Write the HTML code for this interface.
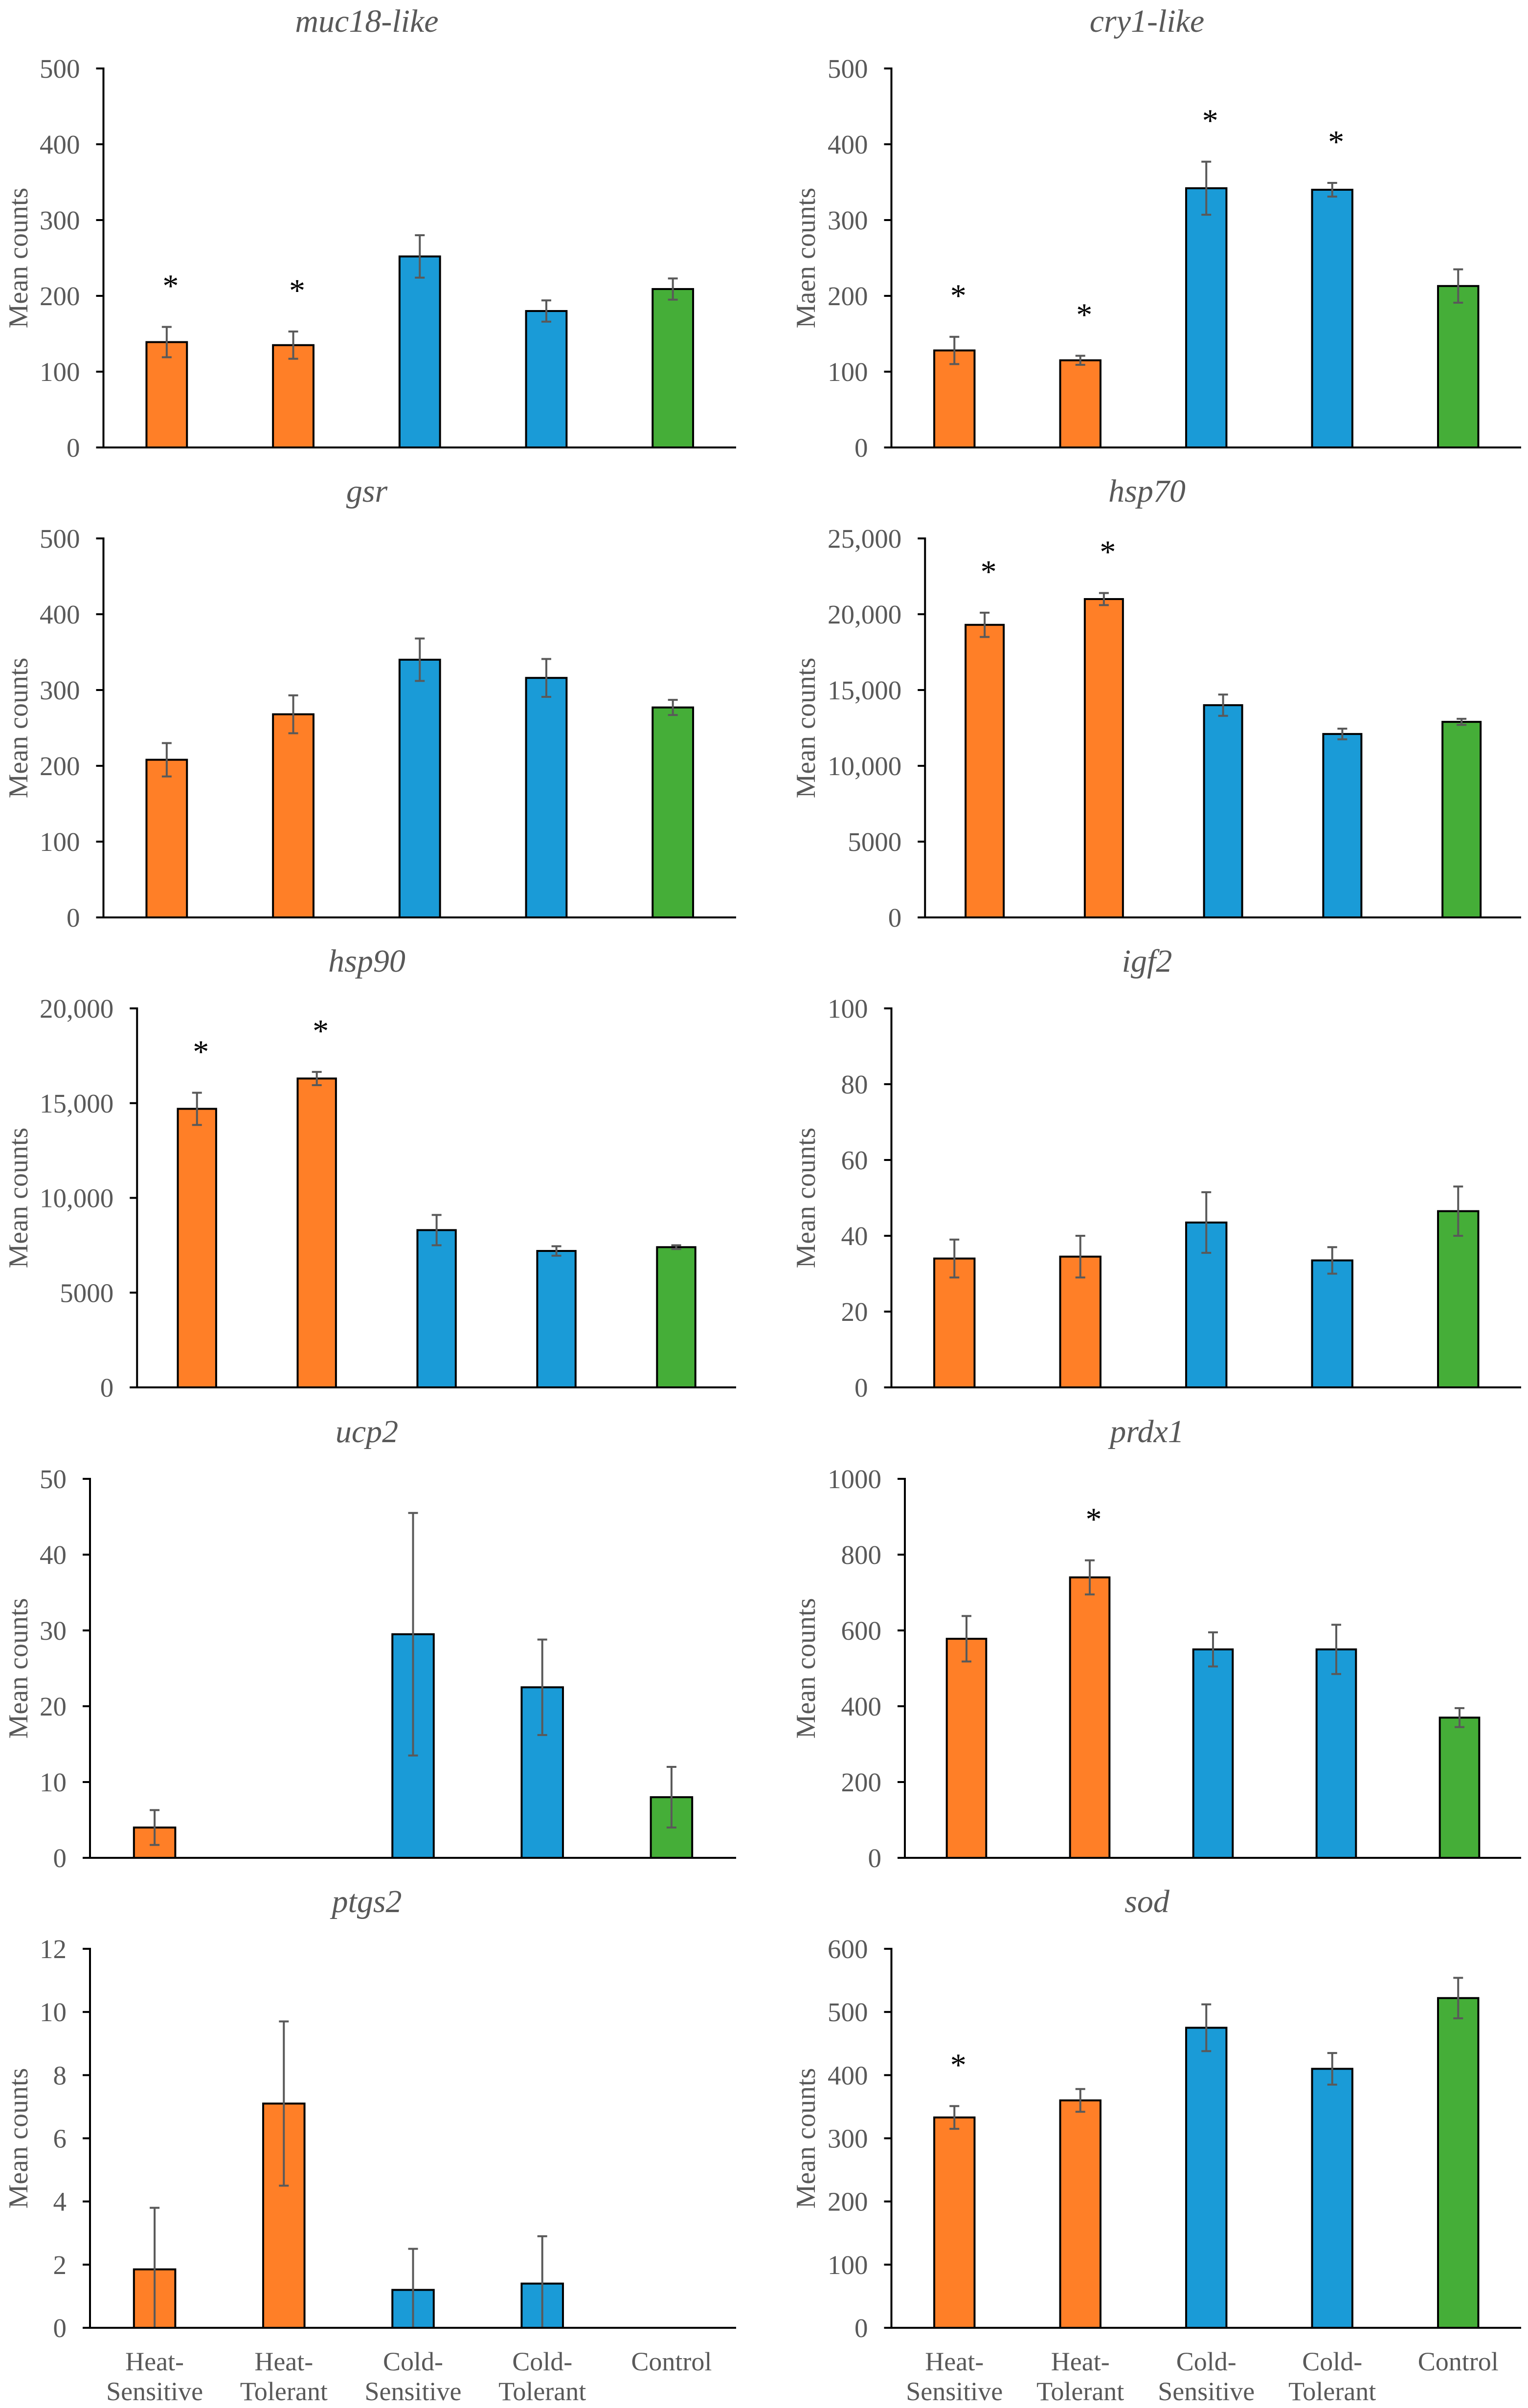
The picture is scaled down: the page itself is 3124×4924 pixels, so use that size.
<!DOCTYPE html>
<html><head><meta charset="utf-8">
<style>
html,body{margin:0;padding:0;background:#fff;}
svg{display:block;font-family:"Liberation Serif",serif;}
</style></head>
<body>
<svg id="fig" width="3124" height="4924" viewBox="0 0 3124 4924" xmlns="http://www.w3.org/2000/svg"></svg>
<script>
const categories = ["Heat-Sensitive","Heat-Tolerant","Cold-Sensitive","Cold-Tolerant","Control"];
const catLine1 = ["Heat-","Heat-","Cold-","Cold-","Control"];
const catLine2 = ["Sensitive","Tolerant","Sensitive","Tolerant",""];
const colors = ["#FF7F27","#FF7F27","#1A9BD7","#1A9BD7","#45AE38"];

const genes = ["muc18-like","cry1-like","gsr","hsp70","hsp90","igf2","ucp2","prdx1","ptgs2","sod"];
const yTitles = ["Mean counts","Maen counts","Mean counts","Mean counts","Mean counts","Mean counts","Mean counts","Mean counts","Mean counts","Mean counts"];
const yMax = [500,500,500,25000,20000,100,50,1000,12,600];
const yStep = [100,100,100,5000,5000,20,10,200,2,100];

const vMuc18 = [139,135,252,180,209];
const eMuc18 = [20,18,28,14,14];
const vCry1 = [128,115,342,340,213];
const eCry1 = [18,6,35,9,22];
const vGsr = [208,268,340,316,277];
const eGsr = [22,25,28,25,10];
const vHsp70 = [19300,21000,14000,12100,12900];
const eHsp70 = [800,400,700,350,200];
const vHsp90 = [14700,16300,8300,7200,7400];
const eHsp90 = [850,350,800,250,100];
const vIgf2 = [34,34.5,43.5,33.5,46.5];
const eIgf2 = [5,5.5,8,3.5,6.5];
const vUcp2 = [4,0,29.5,22.5,8];
const eUcp2 = [2.3,0,16,6.3,4];
const vPrdx1 = [578,740,550,550,370];
const ePrdx1 = [60,45,45,65,25];
const vPtgs2 = [1.85,7.1,1.2,1.4,0];
const ePtgs2 = [1.95,2.6,1.3,1.5,0];
const vSod = [333,360,475,410,522];
const eSod = [18,18,37,25,32];

const values = [vMuc18,vCry1,vGsr,vHsp70,vHsp90,vIgf2,vUcp2,vPrdx1,vPtgs2,vSod];
const errors = [eMuc18,eCry1,eGsr,eHsp70,eHsp90,eIgf2,eUcp2,ePrdx1,ePtgs2,eSod];
const stars = [[0,1],[0,1,2,3],[],[0,1],[0,1],[],[],[1],[],[0]];

const NS="http://www.w3.org/2000/svg";
const svg=document.getElementById('fig');
function mk(tag,attrs,parent){const e=document.createElementNS(NS,tag);for(const k in attrs)e.setAttribute(k,attrs[k]);(parent||svg).appendChild(e);return e;}
function fmt(v){ if(v>=10000) return v.toLocaleString('en-US'); return String(v); }

const ROW_TOP=[140,1101,2062,3024,3985];
const PLOT_H=775;
const FS=55;

genes.forEach((g,gi)=>{
  const col=gi%2, row=Math.floor(gi/2);
  const grp=mk('g',{});
  
  
  const top=ROW_TOP[row], zero=top+PLOT_H;
  const maxLabel=fmt(yMax[gi]);
  const lw=maxLabel.replace(',','').length*0.5*FS + (maxLabel.indexOf(',')>=0?0.25*FS:0);
  const axisX=(col===0?81:1692)+ lw + 48;
  const endX=col===0?1505:3110;
  const band=(endX-axisX)/5;
  const bw=band*0.32;
  const y=v=>zero-(v/yMax[gi])*PLOT_H;
  const xc=i=>axisX+band*(i+0.5);

  const t=mk('text',{x:col===0?750:2345,y:top-75,'text-anchor':'middle','font-size':66,'font-style':'italic',fill:'#595959'},grp);
  t.textContent=g;
  
  

  const yt=mk('text',{x:0,y:0,'text-anchor':'middle','font-size':56,fill:'#595959',transform:`translate(${col===0?56:1666},${top+PLOT_H/2}) rotate(-90)`},grp);
  yt.textContent=yTitles[gi];
  
  

  for(let v=0; v<=yMax[gi]+1e-9; v+=yStep[gi]){
    const yy=y(v);
    const tk=mk('line',{x1:axisX-15,x2:axisX,y1:yy,y2:yy,stroke:'#000','stroke-width':4},grp);
    
    
    const tl=mk('text',{x:axisX-48,y:yy+19,'text-anchor':'end','font-size':FS,fill:'#595959'},grp);
    tl.textContent=fmt(v);
    
    
  }

  values[gi].forEach((v,i)=>{
    if(v>0){
      const r=mk('rect',{x:xc(i)-bw/2,y:y(v),width:bw,height:zero-y(v),fill:colors[i],stroke:'#000','stroke-width':4},grp);
      
      
    }
    const e=errors[gi][i];
    if(e>0){
      const lo=Math.max(0,v-e), hi=v+e;
      const eb=mk('path',{d:`M${xc(i)} ${y(lo)}V${y(hi)}M${xc(i)-10} ${y(hi)}H${xc(i)+10}`+(v-e>0?`M${xc(i)-10} ${y(lo)}H${xc(i)+10}`:''),stroke:'#595959','stroke-width':4,fill:'none'},grp);
      
      
    }
    if(stars[gi].indexOf(i)>=0){
      const s=mk('text',{x:xc(i)+8,y:y(v+e)-62,'text-anchor':'middle','font-size':66,fill:'#000'},grp);
      s.textContent='*';
      
      
    }
  });

  const ya=mk('line',{x1:axisX,x2:axisX,y1:top-2,y2:zero,stroke:'#000','stroke-width':4},grp);
  
  
  const xa=mk('line',{x1:axisX-15,x2:endX,y1:zero,y2:zero,stroke:'#000','stroke-width':4},grp);
  
  

  if(row===4){
    categories.forEach((c,i)=>{
      const l=mk('text',{x:xc(i),y:4847,'text-anchor':'middle','font-size':54,fill:'#595959'},grp);
      l.textContent=catLine1[i];
      
      
      if(catLine2[i]){
        const l2=mk('text',{x:xc(i),y:4908,'text-anchor':'middle','font-size':54,fill:'#595959'},grp);
        l2.textContent=catLine2[i];
        
        
      }
    });
  }
});
</script>
</body></html>
